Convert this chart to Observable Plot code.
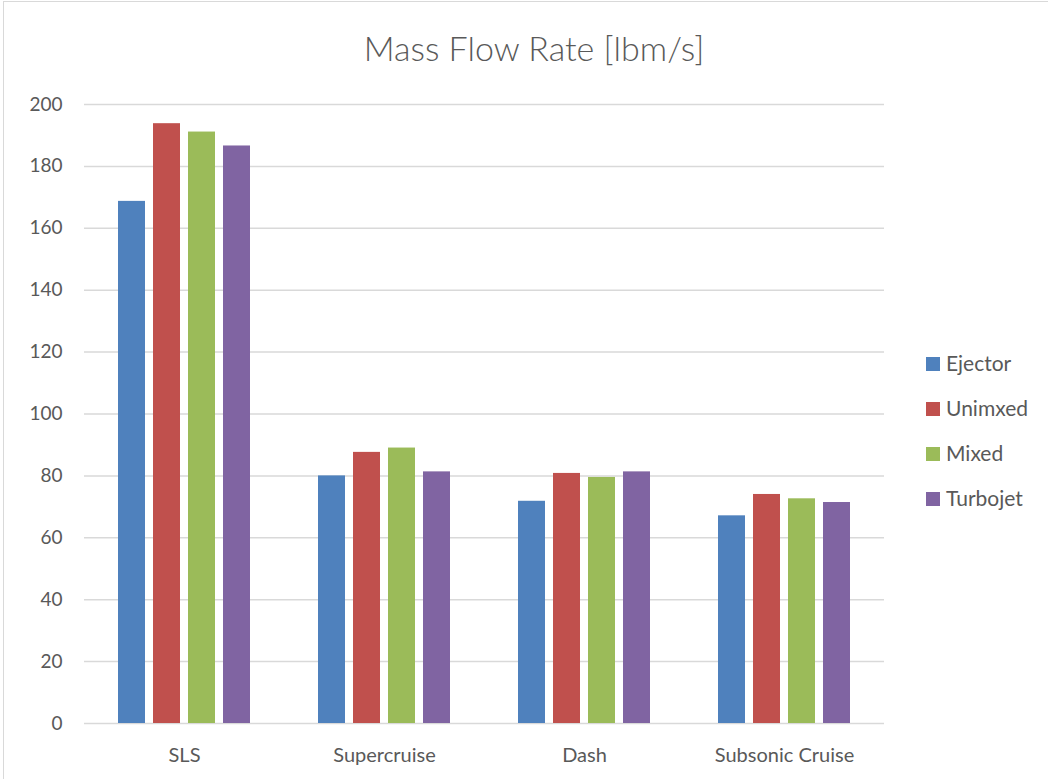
<!DOCTYPE html>
<html>
<head>
<meta charset="utf-8">
<script src="https://cdn.jsdelivr.net/npm/d3@7"></script>
<script src="https://cdn.jsdelivr.net/npm/@observablehq/plot@0.6"></script>
<style>
  html, body { margin: 0; padding: 0; background: #fff; }
  #wrap { position: relative; width: 1048px; height: 779px; overflow: hidden; font-family: Lato, "Open Sans", sans-serif; }
  #frame { position: absolute; left: 3px; top: 1px; width: 1060px; height: 790px; border: 1px solid #d9d9d9; box-sizing: border-box; }
  #title { position: absolute; left: 234px; width: 600px; top: 26px; text-align: center; font-size: 34px; font-weight: 300; color: #595959; line-height: 44px; }
  #chart { position: absolute; left: 0; top: 90px; }
  #legend { position: absolute; left: 926px; top: 350px; font-size: 21px; color: #595959; }
  .item { position: absolute; left: 0; height: 24px; white-space: nowrap; }
  .sw { position: absolute; left: 0; top: 7px; width: 14px; height: 14px; }
  .lab { position: absolute; left: 20px; top: 0; line-height: 26px; }
</style>
</head>
<body>
<div id="wrap">
  <div id="frame"></div>
  <div id="title">Mass Flow Rate [lbm/s]</div>
  <div id="chart"></div>
  <div id="legend"></div>
</div>
<script>
const categories = ["SLS", "Supercruise", "Dash", "Subsonic Cruise"];
const seriesNames = ["Ejector", "Unimxed", "Mixed", "Turbojet"];
const ejector  = [168.7, 80.0, 71.8, 67.1];
const unimxed  = [193.8, 87.6, 80.8, 74.0];
const mixed    = [191.1, 89.0, 79.5, 72.6];
const turbojet = [186.6, 81.3, 81.3, 71.4];
const colors = ["#4f81bd", "#c0504d", "#9bbb59", "#8064a2"];
const yTicks = [0, 20, 40, 60, 80, 100, 120, 140, 160, 180, 200];

const seriesValues = [ejector, unimxed, mixed, turbojet];
const data = [];
categories.forEach((c, i) => {
  seriesNames.forEach((s, j) => {
    data.push({category: c, series: s, value: seriesValues[j][i]});
  });
});

const chart = Plot.plot({
  width: 1048,
  height: 689,
  marginTop: 14,
  marginBottom: 56,
  marginLeft: 84,
  marginRight: 164,
  style: {fontFamily: "Lato, 'Open Sans', sans-serif", background: "transparent"},
  fx: {domain: categories, padding: 0, label: null, axis: null},
  x: {domain: seriesNames, paddingInner: 0.222, paddingOuter: 0.9, axis: null},
  y: {domain: [0, 200], label: null, axis: null},
  color: {domain: seriesNames, range: colors},
  marks: [
    Plot.gridY(yTicks, {stroke: "#d9d9d9", strokeOpacity: 1, strokeWidth: 1.5}),
    Plot.barY(data, {fx: "category", x: "series", y: "value", fill: "series"}),
    Plot.axisY(yTicks, {tickSize: 0, tickPadding: 22, fontSize: 19, fill: "#595959", label: null}),
    Plot.axisFx({anchor: "bottom", tickSize: 0, tickPadding: 24, fontSize: 20, fill: "#595959", label: null})
  ]
});
document.getElementById("chart").appendChild(chart);

const legend = document.getElementById("legend");
seriesNames.forEach((s, i) => {
  const it = document.createElement("div");
  it.className = "item";
  it.style.top = (i * 45) + "px";
  const sw = document.createElement("div");
  sw.className = "sw";
  sw.style.background = colors[i];
  const lab = document.createElement("div");
  lab.className = "lab";
  lab.textContent = s;
  it.appendChild(sw);
  it.appendChild(lab);
  legend.appendChild(it);
});
</script>
</body>
</html>
